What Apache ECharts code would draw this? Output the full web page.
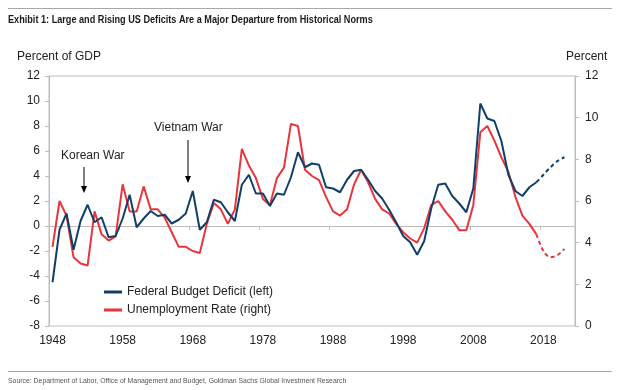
<!DOCTYPE html>
<html>
<head>
<meta charset="utf-8">
<script src="https://cdn.jsdelivr.net/npm/echarts@6/dist/echarts.min.js"></script>
<style>
html,body{margin:0;padding:0;background:#fff;}
#chart{width:620px;height:390px;}
</style>
</head>
<body>
<div id="chart"></div>
<script>
// Categories (years) on the x axis
var years = ["1948","1949","1950","1951","1952","1953","1954","1955","1956","1957",
  "1958","1959","1960","1961","1962","1963","1964","1965","1966","1967",
  "1968","1969","1970","1971","1972","1973","1974","1975","1976","1977",
  "1978","1979","1980","1981","1982","1983","1984","1985","1986","1987",
  "1988","1989","1990","1991","1992","1993","1994","1995","1996","1997",
  "1998","1999","2000","2001","2002","2003","2004","2005","2006","2007",
  "2008","2009","2010","2011","2012","2013","2014","2015","2016","2017",
  "2018","2019","2020","2021","2022"];

// Federal budget deficit, % of GDP (left axis), 1948-2017 actual
var deficitActual = [-4.5,-0.3,1.0,-1.9,0.4,1.7,0.3,0.7,-0.9,-0.8,
  0.6,2.5,-0.1,0.6,1.2,0.8,0.9,0.2,0.5,1.0,
  2.8,-0.3,0.3,2.1,1.9,1.1,0.4,3.3,4.1,2.6,
  2.6,1.6,2.6,2.5,3.9,5.9,4.7,5.0,4.9,3.1,
  3.0,2.7,3.7,4.4,4.5,3.7,2.8,2.2,1.3,0.3,
  -0.8,-1.3,-2.3,-1.2,1.4,3.3,3.4,2.4,1.8,1.1,
  3.0,9.8,8.6,8.4,6.8,4.1,2.8,2.4,3.1,3.5];
// Projection 2017-2021 (dashed)
var deficitProjection = [3.5,4.1,4.7,5.2,5.5];

// Unemployment rate, % (right axis), 1948-2017 actual
var unemploymentActual = [3.8,6.0,5.3,3.3,3.0,2.9,5.5,4.4,4.1,4.3,
  6.8,5.5,5.5,6.7,5.6,5.6,5.2,4.5,3.8,3.8,
  3.6,3.5,4.9,5.9,5.6,4.9,5.6,8.5,7.7,7.1,
  6.1,5.8,7.1,7.6,9.7,9.6,7.5,7.2,7.0,6.2,
  5.5,5.3,5.6,6.8,7.5,6.9,6.1,5.6,5.4,4.9,
  4.5,4.2,4.0,4.7,5.8,6.0,5.5,5.1,4.6,4.6,
  5.8,9.3,9.6,8.9,8.1,7.4,6.2,5.3,4.9,4.4];
// Projection 2017-2021 (dashed)
var unemploymentProjection = [4.4,3.6,3.3,3.4,3.7];
var projectionStartYear = "2017";

var leftTicks = {min:-8, max:12, interval:2};
var rightTicks = {min:0, max:12, interval:2};

function padActual(arr){
  var out = [];
  for (var i=0;i<years.length;i++) out.push(i<arr.length ? arr[i] : null);
  return out;
}
function padProjection(arr){
  var start = years.indexOf(projectionStartYear);
  var out = [];
  for (var i=0;i<years.length;i++){
    var k = i-start;
    out.push(k>=0 && k<arr.length ? arr[k] : null);
  }
  return out;
}

var BLUE = '#123f69';
var RED = '#e8353c';
var AXIS = '#bdbdbd';
var TXT = '#222';

var chart = echarts.init(document.getElementById('chart'), null, {renderer:'canvas'});
var option = {
  animation:false,
  backgroundColor:'#fff',
  textStyle:{fontFamily:'Liberation Sans, Arial, sans-serif'},
  grid:{left:49,right:45,top:76,bottom:64,show:true,borderColor:AXIS,borderWidth:1},
  legend:{
    orient:'vertical', left:99, top:281, itemWidth:18, itemHeight:3, itemGap:6,
    icon:'rect',
    textStyle:{fontSize:12,color:TXT,fontFamily:'Liberation Sans, Arial, sans-serif'},
    data:['Federal Budget Deficit (left)','Unemployment Rate (right)']
  },
  xAxis:{
    type:'category', data:years, boundaryGap:true,
    axisLine:{lineStyle:{color:AXIS,width:1}},
    axisTick:{show:true,interval:9,length:4,lineStyle:{color:AXIS}},
    axisLabel:{interval:9,fontSize:12,color:TXT,margin:9},
    splitLine:{show:false}
  },
  yAxis:[{
    type:'value', position:'left', min:leftTicks.min, max:leftTicks.max, interval:leftTicks.interval,
    axisLine:{show:true,lineStyle:{color:AXIS}},
    axisTick:{show:true,length:4,lineStyle:{color:AXIS}},
    axisLabel:{fontSize:12,color:TXT,margin:9},
    splitLine:{show:false}
  },{
    type:'value', position:'right', min:rightTicks.min, max:rightTicks.max, interval:rightTicks.interval,
    axisLine:{show:true,lineStyle:{color:AXIS}},
    axisTick:{show:true,length:4,lineStyle:{color:AXIS}},
    axisLabel:{fontSize:12,color:TXT,margin:10},
    splitLine:{show:false}
  }],
  series:[{
    name:'Federal Budget Deficit (left)', type:'line', yAxisIndex:0,
    data:padActual(deficitActual), showSymbol:false, symbol:'none',
    lineStyle:{color:BLUE,width:2}, itemStyle:{color:BLUE}, z:3
  },{
    name:'Unemployment Rate (right)', type:'line', yAxisIndex:1,
    data:padActual(unemploymentActual), showSymbol:false, symbol:'none',
    lineStyle:{color:RED,width:2}, itemStyle:{color:RED}, z:2
  },{
    name:'Deficit projection', type:'line', yAxisIndex:0,
    data:padProjection(deficitProjection), showSymbol:false, symbol:'none', smooth:0.3,
    lineStyle:{color:BLUE,width:2,type:[4,3]}, itemStyle:{color:BLUE}
  },{
    name:'Unemployment projection', type:'line', yAxisIndex:1,
    data:padProjection(unemploymentProjection), showSymbol:false, symbol:'none', smooth:0.3,
    lineStyle:{color:RED,width:2,type:[4,3]}, itemStyle:{color:RED}
  }],
  graphic:[
    {type:'line',shape:{x1:8,y1:8.5,x2:612,y2:8.5},style:{stroke:'#a8a8a8',lineWidth:1}},
    {type:'text',x:8,y:20,scaleX:0.83,scaleY:1.05,style:{text:'Exhibit 1: Large and Rising US Deficits Are a Major Departure from Historical Norms',
      font:'bold 11px "Liberation Sans", Arial',fill:'#1a1a1a',verticalAlign:'middle'}},
    {type:'text',left:17,top:51,style:{text:'Percent of GDP',font:'12px "Liberation Sans", Arial',fill:TXT}},
    {type:'text',left:566,top:51,style:{text:'Percent',font:'12px "Liberation Sans", Arial',fill:TXT}},
    {type:'text',left:61,top:150,style:{text:'Korean War',font:'12px "Liberation Sans", Arial',fill:TXT}},
    {type:'line',shape:{x1:84,y1:167,x2:84,y2:188},style:{stroke:'#000',lineWidth:1}},
    {type:'polygon',shape:{points:[[81,186],[87,186],[84,193]]},style:{fill:'#000'}},
    {type:'text',left:154,top:122,style:{text:'Vietnam War',font:'12px "Liberation Sans", Arial',fill:TXT}},
    {type:'line',shape:{x1:188,y1:140,x2:188,y2:178},style:{stroke:'#000',lineWidth:1}},
    {type:'polygon',shape:{points:[[185,176],[191,176],[188,183]]},style:{fill:'#000'}},
    {type:'line',shape:{x1:8,y1:371.5,x2:612,y2:371.5},style:{stroke:'#a8a8a8',lineWidth:1}},
    {type:'text',x:8,y:381,scaleX:0.86,style:{text:'Source: Department of Labor, Office of Management and Budget, Goldman Sachs Global Investment Research',
      font:'8px "Liberation Sans", Arial',fill:'#555',verticalAlign:'middle'}}
  ]
};
chart.setOption(option);
</script>
</body>
</html>
